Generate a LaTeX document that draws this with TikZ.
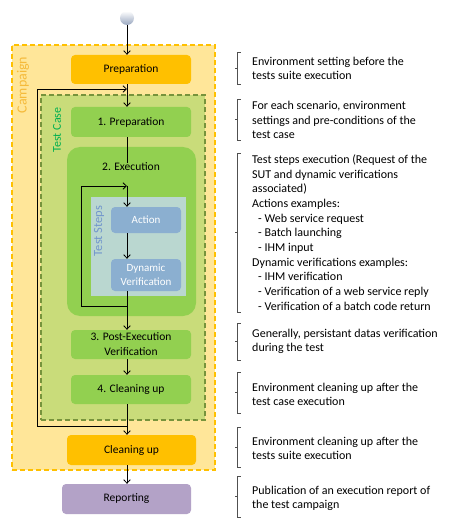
\documentclass[tikz,border=0pt]{standalone}
\usepackage{fontspec}
\setmainfont{Carlito}
\usetikzlibrary{arrows.meta}
\definecolor{campfill}{HTML}{FFE699}
\definecolor{campline}{HTML}{FFC000}
\definecolor{camplabel}{HTML}{F5BA3A}
\definecolor{orangebox}{HTML}{FFC000}
\definecolor{tcfill}{HTML}{C9DC7A}
\definecolor{tcline}{HTML}{77933C}
\definecolor{tclabel}{HTML}{00B050}
\definecolor{greenbox}{HTML}{92D050}
\definecolor{tsfill}{HTML}{BAD7D0}
\definecolor{tslabel}{HTML}{7296CC}
\definecolor{bluebox}{HTML}{8BAFD0}
\definecolor{purplebox}{HTML}{B3A2C7}
\definecolor{brkcol}{HTML}{505050}
\definecolor{balldark}{HTML}{98A6BF}
\newcommand{\brk}[2]{%
  \draw[brk] (240.5,#1) -- (237.5,#1) -- (237.5,#2) -- (240.5,#2);
  \draw[brk] (237.5,{(#1+#2)/2}) -- ++(-3,0);}
\begin{document}
\begin{tikzpicture}[x=1pt,y=-1pt,
  box/.style={rounded corners=4pt, inner sep=0pt, align=center,
    font=\fontsize{11.5}{15}\selectfont},
  sbox/.style={box, fill=bluebox, text=white, font=\fontsize{11}{13.5}\selectfont},
  arr/.style={draw=black, line width=0.8pt, -{Straight Barb[length=3.5pt,width=6.5pt]}},
  ln/.style={draw=black, line width=0.8pt},
  brk/.style={draw=brkcol, line width=0.9pt},
  desc/.style={anchor=west, inner sep=0pt, align=left,
    font=\fontsize{12}{14.7}\selectfont},
]
\useasboundingbox (0,0) rectangle (449,529);
\fill[white] (0,0) rectangle (449,529);

% containers
\node[draw=campline, fill=campfill, line width=1.6pt,
  dash pattern=on 5pt off 3pt, minimum width=203pt, minimum height=425pt,
  inner sep=0pt] (campaign) at (113.5,257.5) {};
\node[rotate=90, text=camplabel, font=\fontsize{14}{16}\selectfont] (camplbl) at (23,85) {Campaign};
\node[draw=tcline, fill=tcfill, line width=1.4pt, dash pattern=on 5pt off 3pt,
  minimum width=164pt, minimum height=325pt, inner sep=0pt] (testcase) at (123,257.5) {};
\node[rotate=90, text=tclabel, font=\fontsize{12}{14}\selectfont] (tclbl) at (57,130) {Test Case};

% start
\node[circle, minimum size=14pt, inner sep=0pt, top color=white, bottom color=balldark] (start) at (127,18) {};

% boxes
\node[box, fill=orangebox, minimum width=120pt, minimum height=29pt] (prep) at (131,69.5) {Preparation};
\node[box, fill=greenbox, minimum width=120pt, minimum height=30pt] (prep1) at (131,122) {1. Preparation};
\node[box, fill=greenbox, rounded corners=13pt, minimum width=129pt, minimum height=169pt] (exec) at (131.5,231.5) {};
\node[box] (execlbl) at (131,167) {2. Execution};
\node[fill=tsfill, minimum width=95pt, minimum height=99pt, inner sep=0pt] (steps) at (138.5,246.5) {};
\node[rotate=90, text=tslabel, font=\fontsize{12.5}{14}\selectfont] (tslbl) at (99,231) {Test Steps};
\node[sbox, minimum width=70pt, minimum height=26pt] (action) at (146,220) {Action};
\node[sbox, minimum width=70pt, minimum height=32pt] (dyn) at (146,275) {Dynamic\\Verification};
\node[box, fill=greenbox, minimum width=120pt, minimum height=29pt] (post) at (131,344.5) {3. Post-Execution\\Verification};
\node[box, fill=greenbox, minimum width=120pt, minimum height=29pt] (clean4) at (131,389.5) {4. Cleaning up};
\node[box, fill=orangebox, minimum width=129pt, minimum height=30pt] (cleanup) at (131.5,450) {Cleaning up};
\node[box, fill=purplebox, minimum width=129pt, minimum height=30pt] (report) at (126.5,499) {Reporting};

% axis and loop points
\coordinate (axis) at (127,0);
\coordinate (outA) at (127,426);
\coordinate (outB) at (37,426);
\coordinate (outC) at (37,89);
\coordinate (outD) at (127,89);
\coordinate (inA) at (127,306);
\coordinate (inB) at (81,306);
\coordinate (inC) at (81,186);
\coordinate (inD) at (127,186);

% connectors
\draw[arr] (start.south) -- (prep.north -| axis);
\draw[arr] (prep.south -| axis) -- (prep1.north -| axis);
\draw[ln] (prep1.south -| axis) -- (execlbl.north -| axis);
\draw[arr] (inD) -- (action.north -| axis);
\draw[arr] (action.south -| axis) -- (dyn.north -| axis);
\draw[arr] (dyn.south -| axis) -- (post.north -| axis);
\draw[arr] (inA) -- (inB) -- (inC) -- (inD);
\draw[arr] (post.south -| axis) -- (clean4.north -| axis);
\draw[arr] (clean4.south -| axis) -- (cleanup.north -| axis);
\draw[arr] (outA) -- (outB) -- (outC) -- (outD);
\draw[arr] (cleanup.south -| axis) -- (report.north -| axis);

% descriptions
\brk{52}{84}
\node[desc] (d1) at (252,68.5) {Environment setting before the\\tests suite execution};
\brk{99}{140}
\node[desc] (d2) at (252,120) {For each scenario, environment\\settings and pre-conditions of the\\test case};
\brk{153}{312}
\node[desc] (d3) at (252,232.5) {Test steps execution (Request of the\\SUT and dynamic verifications\\associated)\\Actions examples:\\\hspace*{6pt}- Web service request\\\hspace*{6pt}- Batch launching\\\hspace*{6pt}- IHM input\\Dynamic verifications examples:\\\hspace*{6pt}- IHM verification\\\hspace*{6pt}- Verification of a web service reply\\\hspace*{6pt}- Verification of a batch code return};
\brk{323}{360}
\node[desc] (d4) at (252,341.5) {Generally, persistant datas verification\\during the test};
\brk{372}{413}
\node[desc] (d5) at (252,394.5) {Environment cleaning up after the\\test case execution};
\brk{427}{467}
\node[desc] (d6) at (252,448.5) {Environment cleaning up after the\\tests suite execution};
\brk{476}{517}
\node[desc] (d7) at (252,498.5) {Publication of an execution report of\\the test campaign};
\end{tikzpicture}
\end{document}
